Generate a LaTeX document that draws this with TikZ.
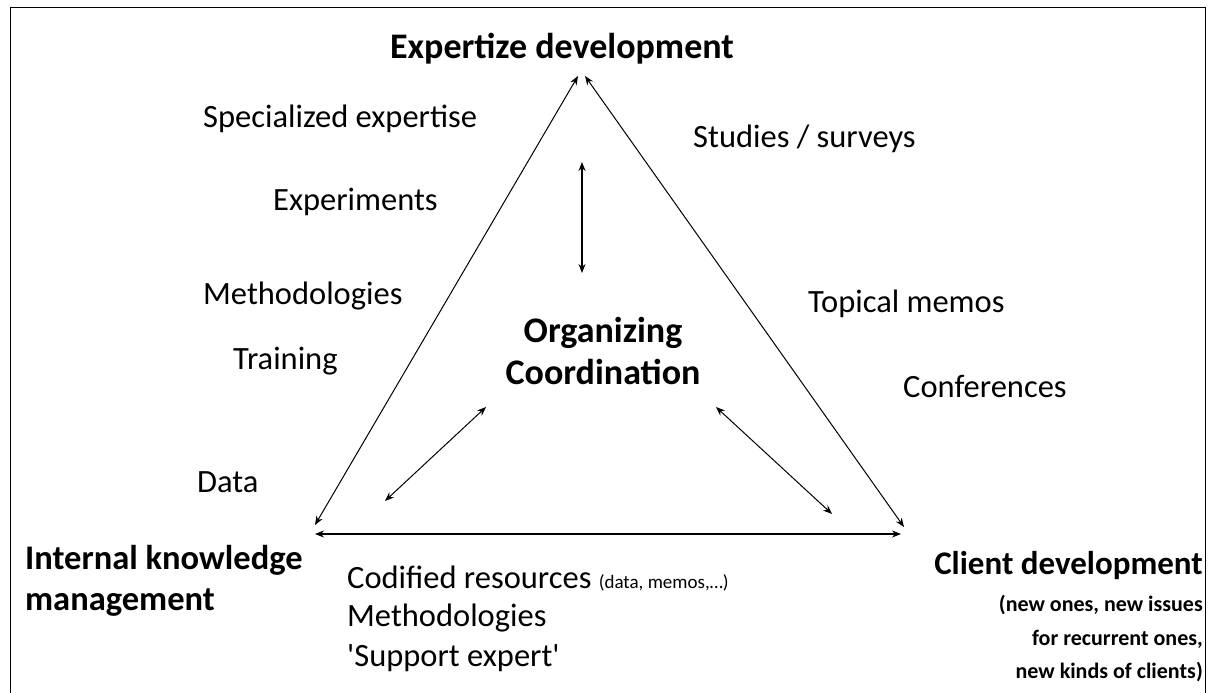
\documentclass[tikz,border=0pt]{standalone}
\usepackage{fontspec}
\setmainfont{Carlito}[Ligatures=TeXOff]
\usetikzlibrary{arrows.meta}
\begin{document}
\begin{tikzpicture}[x=1pt,y=-1pt,
  lbl/.style={inner sep=0pt,font=\fontsize{32.5}{40}\selectfont},
  head/.style={inner sep=0pt,font=\fontsize{36}{42}\selectfont\bfseries},
  headb/.style={inner sep=0pt,font=\fontsize{34.5}{41}\selectfont\bfseries},
  headc/.style={inner sep=0pt,font=\fontsize{33}{40}\selectfont\bfseries},
  sub/.style={inner sep=0pt,font=\fontsize{22}{33.5}\selectfont\bfseries},
  conn/.style={line width=1pt,{Stealth[length=9pt,width=7pt]}-{Stealth[length=9pt,width=7pt]}},
  frame/.style={line width=1pt}]
\useasboundingbox (0,0) rectangle (1215,693);
% frame
\draw[frame] (10,700) -- (10,8) -- (1205,8) -- (1205,700);
% corner coordinates
\coordinate (apexL) at (578,76);
\coordinate (apexR) at (585,76);
\coordinate (blU) at (315,525);
\coordinate (blH) at (315,534);
\coordinate (brU) at (904,527);
\coordinate (brH) at (901,534);
\coordinate (vT) at (582,162);
\coordinate (vB) at (582,273);
\coordinate (dlA) at (486,407);
\coordinate (dlB) at (385,501);
\coordinate (drA) at (716,407);
\coordinate (drB) at (832,514);
% connectors
\draw[conn] (apexL) -- (blU);
\draw[conn] (apexR) -- (brU);
\draw[conn,line width=1.6pt] (blH) -- (brH);
\draw[conn,line width=1.3pt] (vT) -- (vB);
\draw[conn] (dlA) -- (dlB);
\draw[conn] (drA) -- (drB);
% headings
\node[head] (expd) at (562,49) {Expertize development};
\node[head,align=center] (org) at (603,351) {Organizing\\Coordination};
\node[headb,anchor=west,align=left] (ikm) at (25,581) {Internal knowledge\\management};
\node[headc,anchor=east] (cd) at (1203,566) {Client development};
\node[sub,anchor=north east,align=right] (cdsub) at (1203,595) {(new ones, new issues\\for recurrent ones,\\new kinds of clients)};
% left labels
\node[lbl,anchor=west] (spx) at (203,119) {Specialized expertise};
\node[lbl,anchor=west] (exp) at (273,202) {Experiments};
\node[lbl,anchor=west] (meth) at (203,296) {Methodologies};
\node[lbl,anchor=west] (trn) at (233,361) {Training};
\node[lbl,anchor=west] (dat) at (197,482) {Data};
% right labels
\node[lbl,anchor=west] (stu) at (693,139) {Studies / surveys};
\node[lbl,anchor=west] (top) at (808,304) {Topical memos};
\node[lbl,anchor=west] (conf) at (903,386) {Conferences};
% bottom labels
\node[lbl,anchor=west] (cod) at (347,579) {Codified resources {\fontsize{19}{22}\selectfont(data, memos,…)}};
\node[lbl,anchor=west] (meth2) at (347,618) {Methodologies};
\node[lbl,anchor=west] (supp) at (347,658) {'Support expert'};
\end{tikzpicture}
\end{document}
